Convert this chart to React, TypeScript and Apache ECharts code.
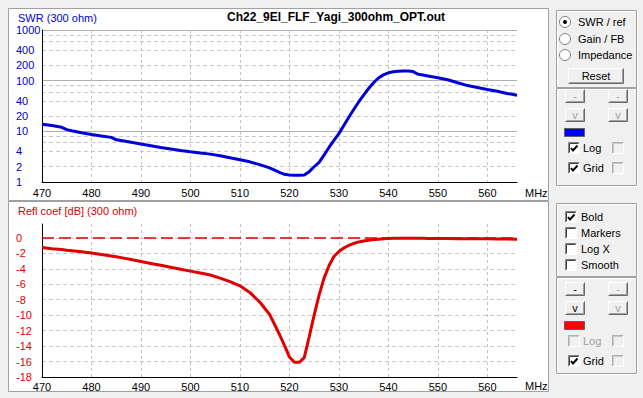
import React, { useEffect, useRef } from 'react';
import * as echarts from 'echarts';

// ---------- data ----------
const freqs = [470, 472, 474, 475, 476, 478, 480, 482, 484, 485, 486, 488, 490, 492, 494, 496, 498, 500, 502, 504, 506, 508, 510, 512, 514, 516, 518, 519, 520, 521, 522, 523, 524, 525, 526, 527, 528, 529, 530, 531, 532, 533, 534, 535, 536, 537, 538, 539, 540, 541, 542, 543, 544, 545, 546, 547, 548, 550, 552, 554, 556, 558, 560, 562, 564, 566];
const swr = [13.8, 13.0, 12.0, 10.8, 10.3, 9.4, 8.7, 8.1, 7.6, 6.8, 6.6, 6.1, 5.6, 5.2, 4.8, 4.5, 4.2, 3.95, 3.75, 3.55, 3.3, 3.0, 2.75, 2.5, 2.2, 1.9, 1.55, 1.42, 1.37, 1.36, 1.36, 1.38, 1.6, 2.0, 2.45, 3.4, 4.8, 6.6, 9.0, 13, 19, 27, 38, 52, 70, 91, 113, 130, 143, 150, 154, 156, 155, 151, 134, 129, 124, 114, 104, 91, 80, 73, 67, 62, 56, 51.5];
const reflDb = [-1.25, -1.4, -1.5, -1.6, -1.65, -1.8, -1.95, -2.15, -2.35, -2.45, -2.55, -2.8, -3.05, -3.3, -3.55, -3.8, -4.05, -4.3, -4.55, -4.8, -5.2, -5.65, -6.2, -7.05, -8.3, -9.9, -12.5, -13.9, -15.4, -16.1, -16.1, -15.5, -12.8, -10.0, -7.4, -5.2, -3.6, -2.4, -1.75, -1.3, -0.98, -0.72, -0.52, -0.4, -0.3, -0.22, -0.16, -0.12, -0.08, -0.06, -0.05, -0.05, -0.05, -0.05, -0.06, -0.06, -0.07, -0.08, -0.08, -0.1, -0.1, -0.11, -0.12, -0.13, -0.15, -0.17];

const xLabelTicks = [470, 480, 490, 500, 510, 520, 530, 540, 550, 560];
const xGridTicks = [480, 490, 500, 510, 520, 530, 540, 550, 560];
const swrLabelTicks = [1, 2, 4, 10, 20, 40, 100, 200, 400, 1000];
const swrMajorGrid = [10, 100, 1000];
const swrMinorGrid = [2, 4, 6, 8, 20, 40, 60, 80, 200, 400, 600, 800];
const reflLabelTicks = [-18, -16, -14, -12, -10, -8, -6, -4, -2, 0];
const reflGridTicks = [-16, -14, -12, -10, -8, -6, -4, -2, 0];
const reflRefLevel = [0];

const FONT = '"Liberation Sans", Arial, sans-serif';
const BLUE = '#0000d8';
const RED = '#e00000';

// ---------- GUI helpers ----------
const txt = (text: string, x: number, y: number, o: any = {}) => ({
  type: 'text', silent: true,
  style: { text, x, y, fontSize: 11, fontFamily: FONT, fill: '#000', align: 'left', verticalAlign: 'middle', ...o },
});
const rect = (x: number, y: number, w: number, h: number, style: any, z?: number) => {
  const r: any = { type: 'rect', silent: true, shape: { x, y, width: w, height: h }, style };
  if (z !== undefined) r.z = z;
  return r;
};
const pl = (points: number[][], stroke: string, lw = 1) => ({
  type: 'polyline', silent: true, shape: { points }, style: { stroke, lineWidth: lw, fill: null },
});

const button = (x: number, y: number, w: number, h: number, label: string, enabled: boolean) => [
  rect(x, y, w, h, { fill: '#f0f0f0' }),
  pl([[x + 0.5, y + h - 0.5], [x + 0.5, y + 0.5], [x + w - 0.5, y + 0.5]], '#ffffff'),
  pl([[x + 0.5, y + h - 0.5], [x + w - 0.5, y + h - 0.5], [x + w - 0.5, y + 0.5]], '#696969'),
  pl([[x + 1.5, y + h - 1.5], [x + w - 1.5, y + h - 1.5], [x + w - 1.5, y + 1.5]], '#a0a0a0'),
  txt(label, x + w / 2, y + h / 2, { align: 'center', fill: enabled ? '#000' : '#a0a0a0' }),
];

const checkbox = (x: number, y: number, checked: boolean, enabled: boolean) => {
  const els: any[] = [
    rect(x, y, 12, 12, { fill: enabled ? '#ffffff' : '#f0f0f0' }),
    pl([[x + 0.5, y + 11.5], [x + 0.5, y + 0.5], [x + 11.5, y + 0.5]], enabled ? '#808080' : '#b0b0b0'),
    pl([[x + 1.5, y + 10.5], [x + 1.5, y + 1.5], [x + 10.5, y + 1.5]], enabled ? '#404040' : '#c8c8c8'),
    pl([[x + 0.5, y + 11.5], [x + 11.5, y + 11.5], [x + 11.5, y + 0.5]], '#ffffff'),
  ];
  if (checked) els.push(pl([[x + 3, y + 6], [x + 5, y + 8.5], [x + 9.5, y + 3.5]], '#000', 2));
  return els;
};

const radio = (cx: number, cy: number, selected: boolean) => {
  const els: any[] = [
    { type: 'circle', silent: true, shape: { cx, cy, r: 5.5 }, style: { fill: '#ffffff', stroke: '#808080', lineWidth: 1 } },
  ];
  if (selected) els.push({ type: 'circle', silent: true, shape: { cx, cy, r: 2 }, style: { fill: '#000' } });
  return els;
};

const groupBox = (x: number, y: number, w: number, h: number) => [
  rect(x + 1.5, y + 1.5, w, h, { fill: null, stroke: '#ffffff', lineWidth: 1 }),
  rect(x + 0.5, y + 0.5, w, h, { fill: null, stroke: '#a0a0a0', lineWidth: 1 }),
];

const App: React.FC = () => {
  const ref = useRef<HTMLDivElement>(null);

  useEffect(() => {
    if (!ref.current) return;
    const chart = echarts.init(ref.current, undefined, { renderer: 'svg' });

    const xAxisBase = (gridIndex: number, margin: number) => ({
      type: 'value', gridIndex, min: 470, max: 566, interval: 10,
      axisLine: { show: true, onZero: false, lineStyle: { color: '#000', width: 1 } },
      axisTick: { show: false, customValues: xGridTicks },
      axisLabel: { customValues: xLabelTicks, color: '#000', fontSize: 11, fontFamily: FONT, margin },
      splitLine: { show: true, lineStyle: { color: '#c4c4c4', type: [3, 3], width: 1 } },
    });

    const graphics: any[] = [
      rect(8.5, 8.5, 540, 192, { fill: '#ffffff', stroke: '#a0a0a0', lineWidth: 1 }, -1),
      rect(8.5, 201.5, 540, 190, { fill: '#ffffff', stroke: '#a0a0a0', lineWidth: 1 }, -1),
      txt('SWR (300 ohm)', 18, 18, { fill: BLUE }),
      txt('Ch22_9El_FLF_Yagi_300ohm_OPT.out', 227, 17, { fontSize: 12, fontWeight: 'bold' }),
      txt('MHz', 525, 193),
      txt('Refl coef [dB] (300 ohm)', 18, 211, { fill: RED }),
      txt('MHz', 525, 386),
      // top right controls
      ...groupBox(556, 10, 80, 77),
      ...radio(565, 22, true), txt('SWR / ref', 578, 22),
      ...radio(565, 39, false), txt('Gain / FB', 578, 39),
      ...radio(565, 55, false), txt('Impedance', 578, 55),
      ...button(568, 68, 56, 16, 'Reset', true),
      ...groupBox(556, 88, 80, 97),
      ...button(565, 89, 20, 14, '-', false),
      ...button(608, 89, 20, 14, '-', false),
      ...button(565, 108, 20, 14, 'v', false),
      ...button(608, 108, 20, 14, 'v', false),
      rect(564.5, 128.5, 20, 8, { fill: '#0000ff', stroke: '#606060', lineWidth: 1 }),
      ...checkbox(568, 142, true, true), txt('Log', 583, 148),
      ...checkbox(612, 142, false, false),
      ...checkbox(568, 162, true, true), txt('Grid', 583, 168),
      ...checkbox(612, 162, false, false),
      // bottom right controls
      ...groupBox(556, 203, 80, 73),
      ...checkbox(565, 211, true, true), txt('Bold', 581, 217),
      ...checkbox(565, 227, false, true), txt('Markers', 581, 233),
      ...checkbox(565, 243, false, true), txt('Log X', 581, 249),
      ...checkbox(565, 259, false, true), txt('Smooth', 581, 265),
      ...groupBox(556, 277, 80, 96),
      ...button(565, 282, 20, 14, '-', true),
      ...button(608, 282, 20, 14, '-', false),
      ...button(565, 301, 20, 14, 'v', true),
      ...button(608, 301, 20, 14, 'v', false),
      rect(564.5, 321.5, 20, 8, { fill: '#ff0000', stroke: '#606060', lineWidth: 1 }),
      ...checkbox(568, 335, false, false), txt('Log', 583, 341, { fill: '#a0a0a0' }),
      ...checkbox(612, 335, false, false),
      ...checkbox(568, 355, true, true), txt('Grid', 583, 361),
      ...checkbox(612, 355, false, false),
    ];

    chart.setOption({
      animation: false,
      backgroundColor: '#f0f0f0',
      textStyle: { fontFamily: FONT },
      grid: [
        { left: 42, top: 30, width: 475, height: 152 },
        { left: 42, top: 224, width: 475, height: 153 },
      ],
      xAxis: [xAxisBase(0, 5), xAxisBase(1, 4)],
      yAxis: [
        {
          type: 'log', logBase: 10, gridIndex: 0, min: 1, max: 1000,
          axisLine: { show: true, onZero: false, lineStyle: { color: '#000' } },
          axisTick: { show: false, customValues: swrMajorGrid },
          axisLabel: { customValues: swrLabelTicks, color: '#0000c0', fontSize: 11, fontFamily: FONT, align: 'left', margin: 26, formatter: (v: number) => String(v) },
          splitLine: { show: true, lineStyle: { color: '#b0b0b0', type: 'solid', width: 1 } },
        },
        {
          type: 'log', logBase: 10, gridIndex: 0, min: 1, max: 1000,
          axisLine: { show: false },
          axisTick: { show: false, customValues: swrMinorGrid },
          axisLabel: { show: false },
          splitLine: { show: true, lineStyle: { color: '#c8c8c8', type: [4, 3], width: 1 } },
        },
        {
          type: 'value', gridIndex: 1, min: -18, max: 1.8, interval: 2,
          axisLine: { show: true, onZero: false, lineStyle: { color: '#000' } },
          axisTick: { show: false, customValues: reflGridTicks },
          axisLabel: { customValues: reflLabelTicks, color: RED, fontSize: 11, fontFamily: FONT, align: 'left', margin: 26 },
          splitLine: { show: true, lineStyle: { color: '#c8c8c8', type: [4, 3], width: 1 } },
        },
      ],
      series: [
        {
          type: 'line', xAxisIndex: 0, yAxisIndex: 0, silent: true, showSymbol: false, symbol: 'none',
          data: freqs.map((f, i) => [f, swr[i]]),
          lineStyle: { color: BLUE, width: 3 }, itemStyle: { color: BLUE },
        },
        {
          type: 'line', xAxisIndex: 1, yAxisIndex: 2, silent: true, showSymbol: false, symbol: 'none',
          data: freqs.map((f, i) => [f, reflDb[i]]),
          lineStyle: { color: RED, width: 3 }, itemStyle: { color: RED },
          markLine: {
            silent: true, symbol: ['none', 'none'], label: { show: false },
            lineStyle: { color: RED, type: [12, 5], width: 1.5 },
            data: reflRefLevel.map((v) => ({ yAxis: v })),
          },
        },
      ],
      graphic: { elements: graphics },
    });

    return () => chart.dispose();
  }, []);

  return <div ref={ref} style={{ position: 'absolute', left: 0, top: 0, width: 643, height: 398 }} />;
};

export default App;
